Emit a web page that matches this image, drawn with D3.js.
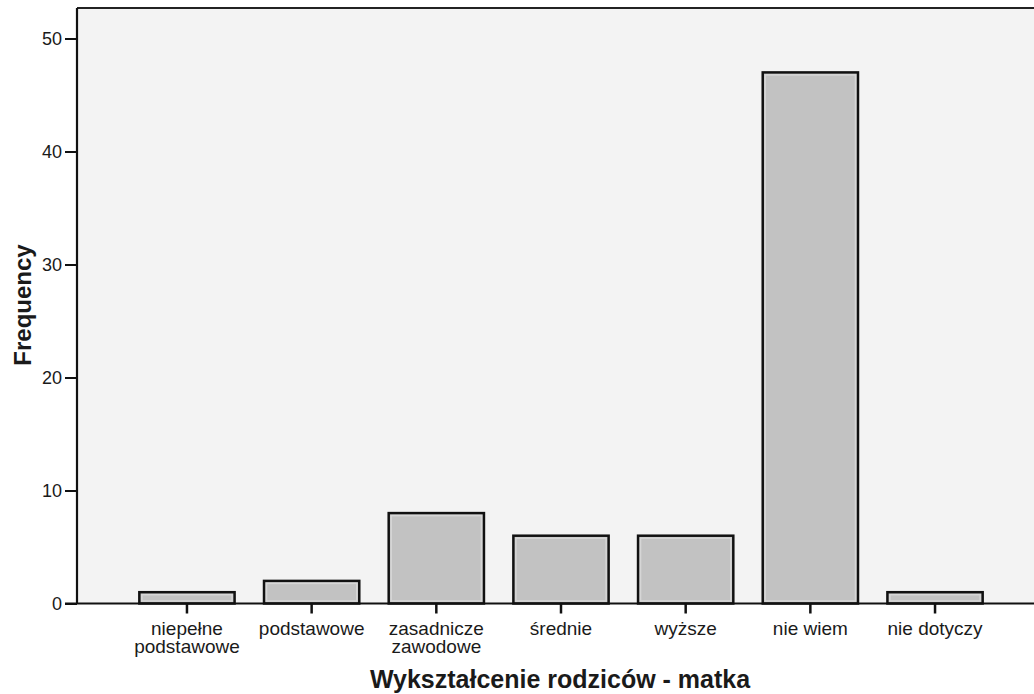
<!DOCTYPE html>
<html>
<head>
<meta charset="utf-8">
<script src="https://cdn.jsdelivr.net/npm/d3@7"></script>
<style>
  html, body { margin: 0; padding: 0; background: #ffffff; }
  svg { display: block; }
  text { font-family: "Liberation Sans", Arial, sans-serif; fill: #1a1a1a; }
</style>
</head>
<body>
<svg id="chart" width="1034" height="694"></svg>
<script>
const categories = [
  ["niepełne", "podstawowe"],
  ["podstawowe"],
  ["zasadnicze", "zawodowe"],
  ["średnie"],
  ["wyższe"],
  ["nie wiem"],
  ["nie dotyczy"]
];
const frequencies = [1, 2, 8, 6, 6, 47, 1];
const yTicks = [0, 10, 20, 30, 40, 50];
const yDomainMax = 52.7;
const xTitle = "Wykształcenie rodziców - matka";
const yTitle = "Frequency";

(function () {
const svg = d3.select("#chart");
const W = 1034, H = 694;
const plotLeft = 77, plotTop = 8, plotBottom = 603.5;

const keys = categories.map((c, i) => String(i));
const x = d3.scaleBand().domain(keys).range([plotLeft, 1045]).paddingInner(0.236).paddingOuter(0.5);
const y = d3.scaleLinear().domain([0, yDomainMax]).range([plotBottom, plotTop]);

// plot background
svg.append("rect").attr("x", plotLeft).attr("y", plotTop).attr("width", W - plotLeft).attr("height", plotBottom - plotTop)
  .attr("fill", "#f3f3f3");

// bars
const bars = svg.append("g");
frequencies.forEach((v, i) => {
  const bx = x(keys[i]), bw = x.bandwidth();
  const by = y(v), bh = y(0) - y(v);
  bars.append("rect").attr("x", bx).attr("y", by).attr("width", bw).attr("height", bh)
    .attr("fill", "#c2c2c2").attr("stroke", "#111").attr("stroke-width", 2.5);
  if (bh > 6) {
    bars.append("rect").attr("x", bx + 2.5).attr("y", by + 2.5).attr("width", bw - 5).attr("height", Math.max(0, bh - 5))
      .attr("fill", "none").attr("stroke", "#d6d6d6").attr("stroke-width", 1.5);
  }
});

// frame line (top)
svg.append("line").attr("x1", plotLeft).attr("x2", W).attr("y1", plotTop).attr("y2", plotTop)
  .attr("stroke", "#222").attr("stroke-width", 2);

// y axis
const yAxis = d3.axisLeft(y).tickValues(yTicks).tickSize(12).tickPadding(3).tickFormat(d3.format("d"));
const gy = svg.append("g").attr("transform", `translate(${plotLeft},0)`).call(yAxis);
gy.select(".domain").attr("stroke", "#111").attr("stroke-width", 2.2).attr("d", `M0,${plotTop}V${plotBottom}`);
gy.selectAll(".tick line").attr("stroke", "#111").attr("stroke-width", 2);
gy.selectAll(".tick text").attr("font-size", 18).attr("fill", "#1a1a1a")
  .style("font-family", '"Liberation Sans", Arial, sans-serif');

// x axis
const xAxis = d3.axisBottom(x).tickSize(10).tickFormat("");
const gx = svg.append("g").attr("transform", `translate(0,${plotBottom})`).call(xAxis);
gx.select(".domain").attr("stroke", "#111").attr("stroke-width", 2.2).attr("d", `M${plotLeft - 12},0H${W}`);
gx.selectAll(".tick line").attr("stroke", "#111").attr("stroke-width", 2.5);
gx.selectAll(".tick").each(function(d, i) {
  const lines = categories[i];
  const t = d3.select(this).append("text").attr("text-anchor", "middle").attr("font-size", 19)
    .attr("fill", "#1a1a1a").style("font-family", '"Liberation Sans", Arial, sans-serif');
  lines.forEach((ln, j) => {
    t.append("tspan").attr("x", 0).attr("y", 31 + j * 18).text(ln);
  });
});

// axis titles
svg.append("text").attr("x", 560).attr("y", 688).attr("text-anchor", "middle")
  .attr("font-size", 25).attr("font-weight", "bold").attr("fill", "#111").text(xTitle);
svg.append("text").attr("transform", "translate(31,305) rotate(-90)").attr("text-anchor", "middle")
  .attr("font-size", 24).attr("font-weight", "bold").attr("fill", "#111").text(yTitle);
})();
</script>
</body>
</html>
